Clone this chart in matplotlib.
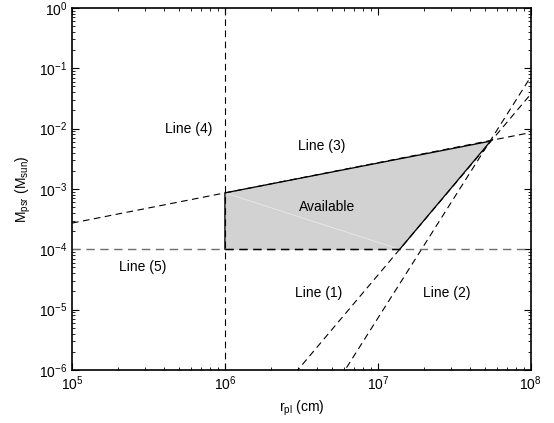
import numpy as np
import matplotlib
matplotlib.use('Agg')
import matplotlib.pyplot as plt
from matplotlib.ticker import NullFormatter

plt.rcParams['font.family'] = ['Liberation Sans', 'DejaVu Sans']
plt.rcParams['mathtext.default'] = 'regular'
plt.rcParams['font.size'] = 10

# constraint lines
r_min = 1e6          # line (4)
m_min = 1e-4         # line (5)
# line (3): M = a3 * (r/1e6)^0.5
a3, p3 = 8.6e-4, 0.5
# line (1): M = 1e-4 * (r/r1)^3
r1, p1 = 1.39e7, 3.0
# line (2): M = 1e-4 * (r/r2)^4
r2, p2 = 1.93e7, 4.0

# corners of the available region
poly_r = [1e6, 1e6, 5.46e7, 1.39e7]
poly_m = [1e-4, 8.6e-4, 6.2e-3, 1e-4]

labels = ['Line (4)', 'Line (3)', 'Available', 'Line (5)', 'Line (1)', 'Line (2)']
lab_x = [10**5.76, 10**6.634, 10**6.667, 10**5.46, 10**6.614, 10**7.451]
lab_y = [10**-2.0, 10**-2.29, 10**-3.30, 10**-4.30, 10**-4.72, 10**-4.72]

fig = plt.figure(figsize=(5.54, 4.23), dpi=100)
ax = fig.add_axes([0.130, 0.1253, 0.828, 0.856])
ax.set_xscale('log')
ax.set_yscale('log')

r = np.logspace(5, 8, 400)
dash = (0, (6, 4))

# available region
ax.fill(poly_r, poly_m, color='#d2d2d2', zorder=1)
ax.plot([poly_r[1], poly_r[3]], [poly_m[1], poly_m[3]], color='white', lw=0.5, alpha=0.6, zorder=1)

# dashed constraint lines
ax.plot(r, a3*(r/1e6)**p3, color='k', lw=0.8, ls=dash, zorder=2)
ax.plot(r, m_min*(r/r1)**p1, color='k', lw=0.8, ls=dash, zorder=2)
ax.plot(r, m_min*(r/r2)**p2, color='k', lw=0.8, ls=dash, zorder=2)
ax.plot([r_min, r_min], [1e-6, 1e0], color='k', lw=0.8, ls=dash, zorder=2)
ax.plot([1e5, 1e8], [m_min, m_min], color='#6e6e6e', lw=1.0, ls=dash, zorder=2)
ax.plot([poly_r[0], poly_r[3]], [m_min, m_min], color='k', lw=1.0, ls=dash, zorder=3)

# solid border of region
ax.plot(poly_r[:3] + [poly_r[3]], poly_m[:3] + [poly_m[3]], color='k', lw=0.9, zorder=3)

for t, x, y in zip(labels, lab_x, lab_y):
    ax.text(x, y, t, ha='center', va='center', fontsize=10)

ax.set_xlim(1e5, 1e8)
ax.set_ylim(1e-6, 1e0)
ax.set_xlabel('r$_{pl}$ (cm)')
ax.set_ylabel('M$_{psr}$ (M$_{sun}$)')
ax.xaxis.set_minor_formatter(NullFormatter())
ax.yaxis.set_minor_formatter(NullFormatter())

ax.tick_params(which='both', direction='in', top=True, right=True, labelsize=10)
ax.tick_params(which='major', length=5, width=0.8)
ax.tick_params(which='minor', length=2.5, width=0.6)
for s in ax.spines.values():
    s.set_linewidth(1.2)

fig.savefig('out.png', dpi=100)
